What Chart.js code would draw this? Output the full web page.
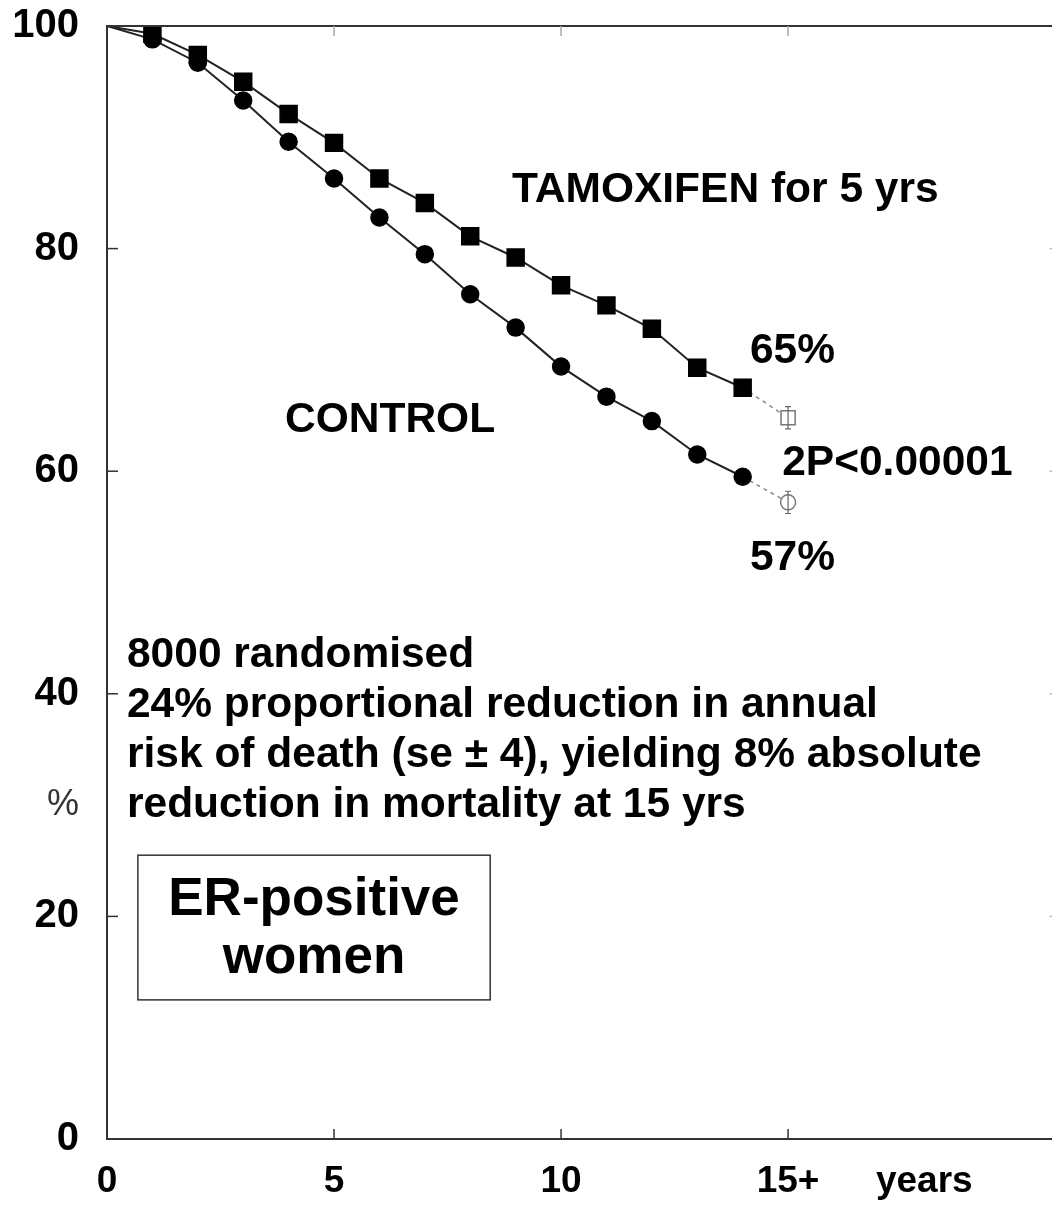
<!DOCTYPE html>
<html>
<head>
<meta charset="utf-8">
<script src="https://cdn.jsdelivr.net/npm/chart.js@4/dist/chart.umd.min.js"></script>
<style>
  html, body { margin: 0; padding: 0; background: #fff; overflow: hidden; }
  #wrap { width: 1072px; height: 1205px; }
</style>
</head>
<body>
<div id="wrap"><canvas id="surv" width="1072" height="1205" style="width:1072px;height:1205px"></canvas></div>
<script>
// years of follow-up (15 = "15+")
var years = [0, 1, 2, 3, 4, 5, 6, 7, 8, 9, 10, 11, 12, 13, 14, 15];
// % alive
var tamoxifen = [100, 99.3, 97.4, 95.0, 92.1, 89.5, 86.3, 84.1, 81.1, 79.2, 76.7, 74.9, 72.8, 69.3, 67.5, 64.8];
var control = [100, 98.8, 96.7, 93.3, 89.6, 86.3, 82.8, 79.5, 75.9, 72.9, 69.4, 66.7, 64.5, 61.5, 59.5, 57.2];
// +/- 1 se shown on the 15-year estimate only
var tamoxifenSe = 1.0;
var controlSe = 1.0;

var xTickValues = [0, 5, 10, 15, 18];
var xTickLabels = ['0', '5', '10', '15+', 'years'];
var yTickValues = [0, 20, 30, 40, 60, 80, 100];
var yTickLabels = ['0', '20', '%', '40', '60', '80', '100'];

var FONT = '"Liberation Sans", Arial, Helvetica, sans-serif';
var LAST = years.length - 1;

function lookup(vals, labels, v) {
  var i = vals.indexOf(v);
  return i < 0 ? '' : labels[i];
}

function pointSizes(r, rLast) {
  return years.map(function(y, i) { return i === 0 ? 0 : (i === LAST ? rLast : r); });
}
function pointFills(c) {
  return years.map(function(y, i) { return i === LAST ? '#fff' : c; });
}
function pointEdges(c) {
  return years.map(function(y, i) { return i === LAST ? '#777' : c; });
}

function lastSeg(ctx, a, b) {
  return ctx.p1DataIndex === LAST ? a : b;
}

function seriesData(vals) {
  return years.map(function(y, i) { return { x: y, y: vals[i] }; });
}

// frame + inward tick marks
var framePlugin = {
  id: 'frame',
  afterDraw: function(chart) {
    var ctx = chart.ctx, a = chart.chartArea;
    var xs = chart.scales.x, ys = chart.scales.y;
    ctx.save();
    ctx.strokeStyle = '#333';
    ctx.lineWidth = 2;
    ctx.strokeRect(a.left, a.top, a.right - a.left, a.bottom - a.top);
    ctx.lineWidth = 1.5;
    [20, 40, 60, 80].forEach(function(v) {
      var py = ys.getPixelForValue(v);
      ctx.strokeStyle = '#333';
      ctx.beginPath(); ctx.moveTo(a.left, py); ctx.lineTo(a.left + 11, py); ctx.stroke();
      ctx.strokeStyle = '#bbb';
      ctx.beginPath(); ctx.moveTo(a.right, py); ctx.lineTo(a.right - 11, py); ctx.stroke();
    });
    [5, 10, 15].forEach(function(v) {
      var px = xs.getPixelForValue(v);
      ctx.strokeStyle = '#333';
      ctx.beginPath(); ctx.moveTo(px, a.bottom); ctx.lineTo(px, a.bottom - 10); ctx.stroke();
      ctx.strokeStyle = '#aaa';
      ctx.beginPath(); ctx.moveTo(px, a.top); ctx.lineTo(px, a.top + 10); ctx.stroke();
    });
    ctx.restore();
  }
};

// se bars on the open 15-year markers
var errPlugin = {
  id: 'errbars',
  afterDatasetsDraw: function(chart) {
    var ctx = chart.ctx, xs = chart.scales.x, ys = chart.scales.y;
    var px = xs.getPixelForValue(years[LAST]);
    ctx.save();
    ctx.strokeStyle = '#666';
    ctx.lineWidth = 1.2;
    [[tamoxifen[LAST], tamoxifenSe], [control[LAST], controlSe]].forEach(function(p) {
      var y0 = ys.getPixelForValue(p[0] - p[1]);
      var y1 = ys.getPixelForValue(p[0] + p[1]);
      ctx.beginPath();
      ctx.moveTo(px, y0); ctx.lineTo(px, y1);
      ctx.moveTo(px - 3, y0); ctx.lineTo(px + 3, y0);
      ctx.moveTo(px - 3, y1); ctx.lineTo(px + 3, y1);
      ctx.stroke();
    });
    ctx.restore();
  }
};

// text on the plot, anchored in data units
var notes = [
  { text: 'TAMOXIFEN for 5 yrs', x: 8.92, y: 84.2 },
  { text: '65%', x: 14.16, y: 69.7 },
  { text: 'CONTROL', x: 3.92, y: 63.5 },
  { text: '2P<0.00001', x: 14.87, y: 59.7 },
  { text: '57%', x: 14.16, y: 51.1 },
  { text: '8000 randomised', x: 0.44, y: 42.4 },
  { text: '24% proportional reduction in annual', x: 0.44, y: 37.9 },
  { text: 'risk of death (se \u00b1 4), yielding 8% absolute', x: 0.44, y: 33.4 },
  { text: 'reduction in mortality at 15 yrs', x: 0.44, y: 28.9 }
];
var box = { x0: 0.68, x1: 8.44, y0: 25.5, y1: 12.5, lines: [['ER-positive', 20.1], ['women', 14.9]] };

var notesPlugin = {
  id: 'notes',
  afterDraw: function(chart) {
    var ctx = chart.ctx, xs = chart.scales.x, ys = chart.scales.y;
    ctx.save();
    ctx.fillStyle = '#000';
    ctx.textBaseline = 'alphabetic';
    ctx.textAlign = 'left';
    ctx.font = 'bold 42.5px ' + FONT;
    notes.forEach(function(n) {
      ctx.fillText(n.text, xs.getPixelForValue(n.x), ys.getPixelForValue(n.y));
    });
    var l = xs.getPixelForValue(box.x0), r = xs.getPixelForValue(box.x1);
    var t = ys.getPixelForValue(box.y0), b = ys.getPixelForValue(box.y1);
    ctx.strokeStyle = '#333';
    ctx.lineWidth = 1.5;
    ctx.strokeRect(l, t, r - l, b - t);
    ctx.textAlign = 'center';
    ctx.font = 'bold 53px ' + FONT;
    box.lines.forEach(function(ln) {
      ctx.fillText(ln[0], (l + r) / 2, ys.getPixelForValue(ln[1]));
    });
    ctx.restore();
  }
};

function markerSet(label, vals, style, r, rLast) {
  return {
    label: label,
    data: seriesData(vals),
    borderColor: '#222',
    borderWidth: 2,
    pointStyle: style,
    pointRadius: pointSizes(r, rLast),
    pointHoverRadius: pointSizes(r, rLast),
    pointBackgroundColor: pointFills('#000'),
    pointBorderColor: pointEdges('#000'),
    pointBorderWidth: 1.5,
    tension: 0,
    segment: {
      borderDash: function(ctx) { return lastSeg(ctx, [4, 4], undefined); },
      borderColor: function(ctx) { return lastSeg(ctx, '#888', undefined); },
      borderWidth: function(ctx) { return lastSeg(ctx, 1.5, undefined); }
    }
  };
}

new Chart(document.getElementById('surv'), {
  type: 'line',
  data: {
    datasets: [
      markerSet('TAMOXIFEN for 5 yrs', tamoxifen, 'rect', 12, 10),
      markerSet('CONTROL', control, 'circle', 8.5, 7.5)
    ]
  },
  options: {
    responsive: false,
    animation: false,
    events: [],
    layout: { padding: { top: 26, right: 4, left: 0, bottom: 0 } },
    plugins: { legend: { display: false }, tooltip: { enabled: false } },
    scales: {
      x: {
        type: 'linear',
        min: 0,
        max: 21,
        grid: { display: false },
        border: { display: false },
        afterBuildTicks: function(s) { s.ticks = xTickValues.map(function(v) { return { value: v }; }); },
        afterFit: function(s) {
          s.height = 66;
          s.paddingLeft = 0; s.paddingRight = 0;
        },
        ticks: {
          autoSkip: false,
          maxRotation: 0,
          padding: 13,
          color: '#000',
          font: { family: FONT, size: 37, weight: 'bold' },
          callback: function(v) { return lookup(xTickValues, xTickLabels, v); }
        }
      },
      y: {
        min: 0,
        max: 100,
        grid: { display: false, drawTicks: false },
        border: { display: false },
        afterBuildTicks: function(s) { s.ticks = yTickValues.map(function(v) { return { value: v }; }); },
        afterFit: function(s) {
          s.width = 107;
          s.paddingTop = 0; s.paddingBottom = 0;
        },
        ticks: {
          autoSkip: false,
          padding: 28,
          color: function(c) { return c.tick && c.tick.value === 30 ? '#333' : '#000'; },
          font: function(c) {
            var pct = c.tick && c.tick.value === 30;
            return { family: FONT, size: pct ? 36 : 40, weight: pct ? 'normal' : 'bold' };
          },
          callback: function(v) { return lookup(yTickValues, yTickLabels, v); }
        }
      }
    }
  },
  plugins: [framePlugin, errPlugin, notesPlugin]
});
</script>
</body>
</html>
